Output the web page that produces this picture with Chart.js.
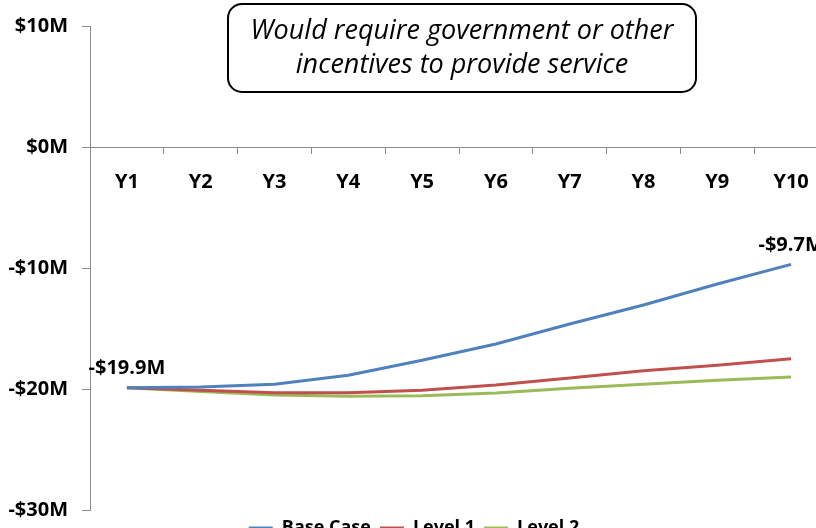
<!DOCTYPE html>
<html>
<head>
<meta charset="utf-8">
<script src="https://cdn.jsdelivr.net/npm/chart.js@4"></script>
<style>
  html, body { margin: 0; padding: 0; background: #fff; width: 816px; height: 528px; overflow: hidden; }
  #wrap { position: absolute; left: 0; top: 0; width: 850px; height: 547px; }
</style>
</head>
<body>
<div id="wrap"><canvas id="chart" width="850" height="547"></canvas></div>
<script>
// Projected cumulative cash position ($M) by year
const years = ['Y1', 'Y2', 'Y3', 'Y4', 'Y5', 'Y6', 'Y7', 'Y8', 'Y9', 'Y10'];
const baseCase = [-19.9, -19.83, -19.61, -18.87, -17.63, -16.28, -14.63, -13.06, -11.32, -9.7];
const level1   = [-19.9, -20.1, -20.3, -20.3, -20.1, -19.67, -19.1, -18.5, -18.04, -17.5];
const level2   = [-19.9, -20.2, -20.5, -20.6, -20.55, -20.33, -19.94, -19.6, -19.28, -19.0];
const seriesNames = ['Base Case', 'Level 1', 'Level 2'];
const yTickValues = [-30, -20, -10, 0, 10];
const calloutLines = ['Would require government or other', 'incentives to provide service'];

const FONT = '"Open Sans", "DejaVu Sans", sans-serif';

function money(v) {
  const a = Math.abs(v);
  const s = Number.isInteger(a) ? String(a) : a.toFixed(1);
  return (v < 0 ? '-$' : '$') + s + 'M';
}

// Rounded callout box with italic note
const calloutPlugin = {
  id: 'callout',
  afterDraw(chart) {
    const ctx = chart.ctx;
    const x = 228, y = 4, w = 468, h = 88, r = 14;
    ctx.save();
    ctx.beginPath();
    ctx.roundRect(x, y, w, h, r);
    ctx.fillStyle = '#fff';
    ctx.fill();
    ctx.lineWidth = 2;
    ctx.strokeStyle = '#000';
    ctx.stroke();
    ctx.fillStyle = '#000';
    ctx.font = 'italic 27px ' + FONT;
    ctx.textAlign = 'center';
    ctx.textBaseline = 'middle';
    ctx.fillText(calloutLines[0], x + w / 2, 31);
    ctx.fillText(calloutLines[1], x + w / 2, 65);
    ctx.restore();
  }
};

// Value labels at the start and end of the Base Case line
const endLabelPlugin = {
  id: 'endLabels',
  afterDatasetsDraw(chart) {
    const ctx = chart.ctx;
    const meta = chart.getDatasetMeta(0);
    const data = chart.data.datasets[0].data;
    ctx.save();
    ctx.fillStyle = '#000';
    ctx.font = 'bold 20px ' + FONT;
    ctx.textAlign = 'center';
    ctx.textBaseline = 'middle';
    [0, data.length - 1].forEach(i => {
      const pt = meta.data[i];
      ctx.fillText(money(data[i]), pt.x, pt.y - 19);
    });
    ctx.restore();
  }
};

new Chart(document.getElementById('chart'), {
  type: 'line',
  data: {
    labels: years,
    datasets: [
      { label: seriesNames[0], data: baseCase, borderColor: '#4F81BD', backgroundColor: '#4F81BD', borderWidth: 3 },
      { label: seriesNames[1], data: level1,   borderColor: '#C0504D', backgroundColor: '#C0504D', borderWidth: 3 },
      { label: seriesNames[2], data: level2,   borderColor: '#9BBB59', backgroundColor: '#9BBB59', borderWidth: 3 }
    ]
  },
  options: {
    responsive: false,
    animation: false,
    devicePixelRatio: 1,
    layout: { padding: { left: 0, right: 22, top: 14, bottom: 0 } },
    elements: {
      line: { borderWidth: 3, tension: 0 },
      point: { radius: 0, hoverRadius: 0 }
    },
    plugins: {
      tooltip: { enabled: false },
      legend: {
        position: 'bottom',
        labels: {
          usePointStyle: true,
          pointStyle: 'line',
          pointStyleWidth: 24,
          padding: 9,
          color: '#000',
          font: { family: FONT, size: 18, weight: 'bold' }
        }
      }
    },
    scales: {
      x: {
        type: 'category',
        position: { y: 0 },
        offset: true,
        grid: { offset: true, drawOnChartArea: false, drawTicks: true, tickLength: 6, color: '#8c8c8c' },
        border: { display: true, color: '#8c8c8c', width: 1 },
        ticks: { padding: 17, color: '#000', font: { family: FONT, size: 20, weight: 'bold' } }
      },
      y: {
        min: -30,
        max: 10,
        afterBuildTicks(scale) { scale.ticks = yTickValues.map(v => ({ value: v })); },
        afterFit(scale) { scale.width = 90; },
        grid: { drawOnChartArea: false, drawTicks: true, tickLength: 8, color: '#8c8c8c' },
        border: { display: true, color: '#8c8c8c', width: 1 },
        ticks: { padding: 14, color: '#000', font: { family: FONT, size: 20, weight: 'bold' }, callback: v => money(v) }
      }
    }
  },
  plugins: [calloutPlugin, endLabelPlugin]
});
</script>
</body>
</html>
